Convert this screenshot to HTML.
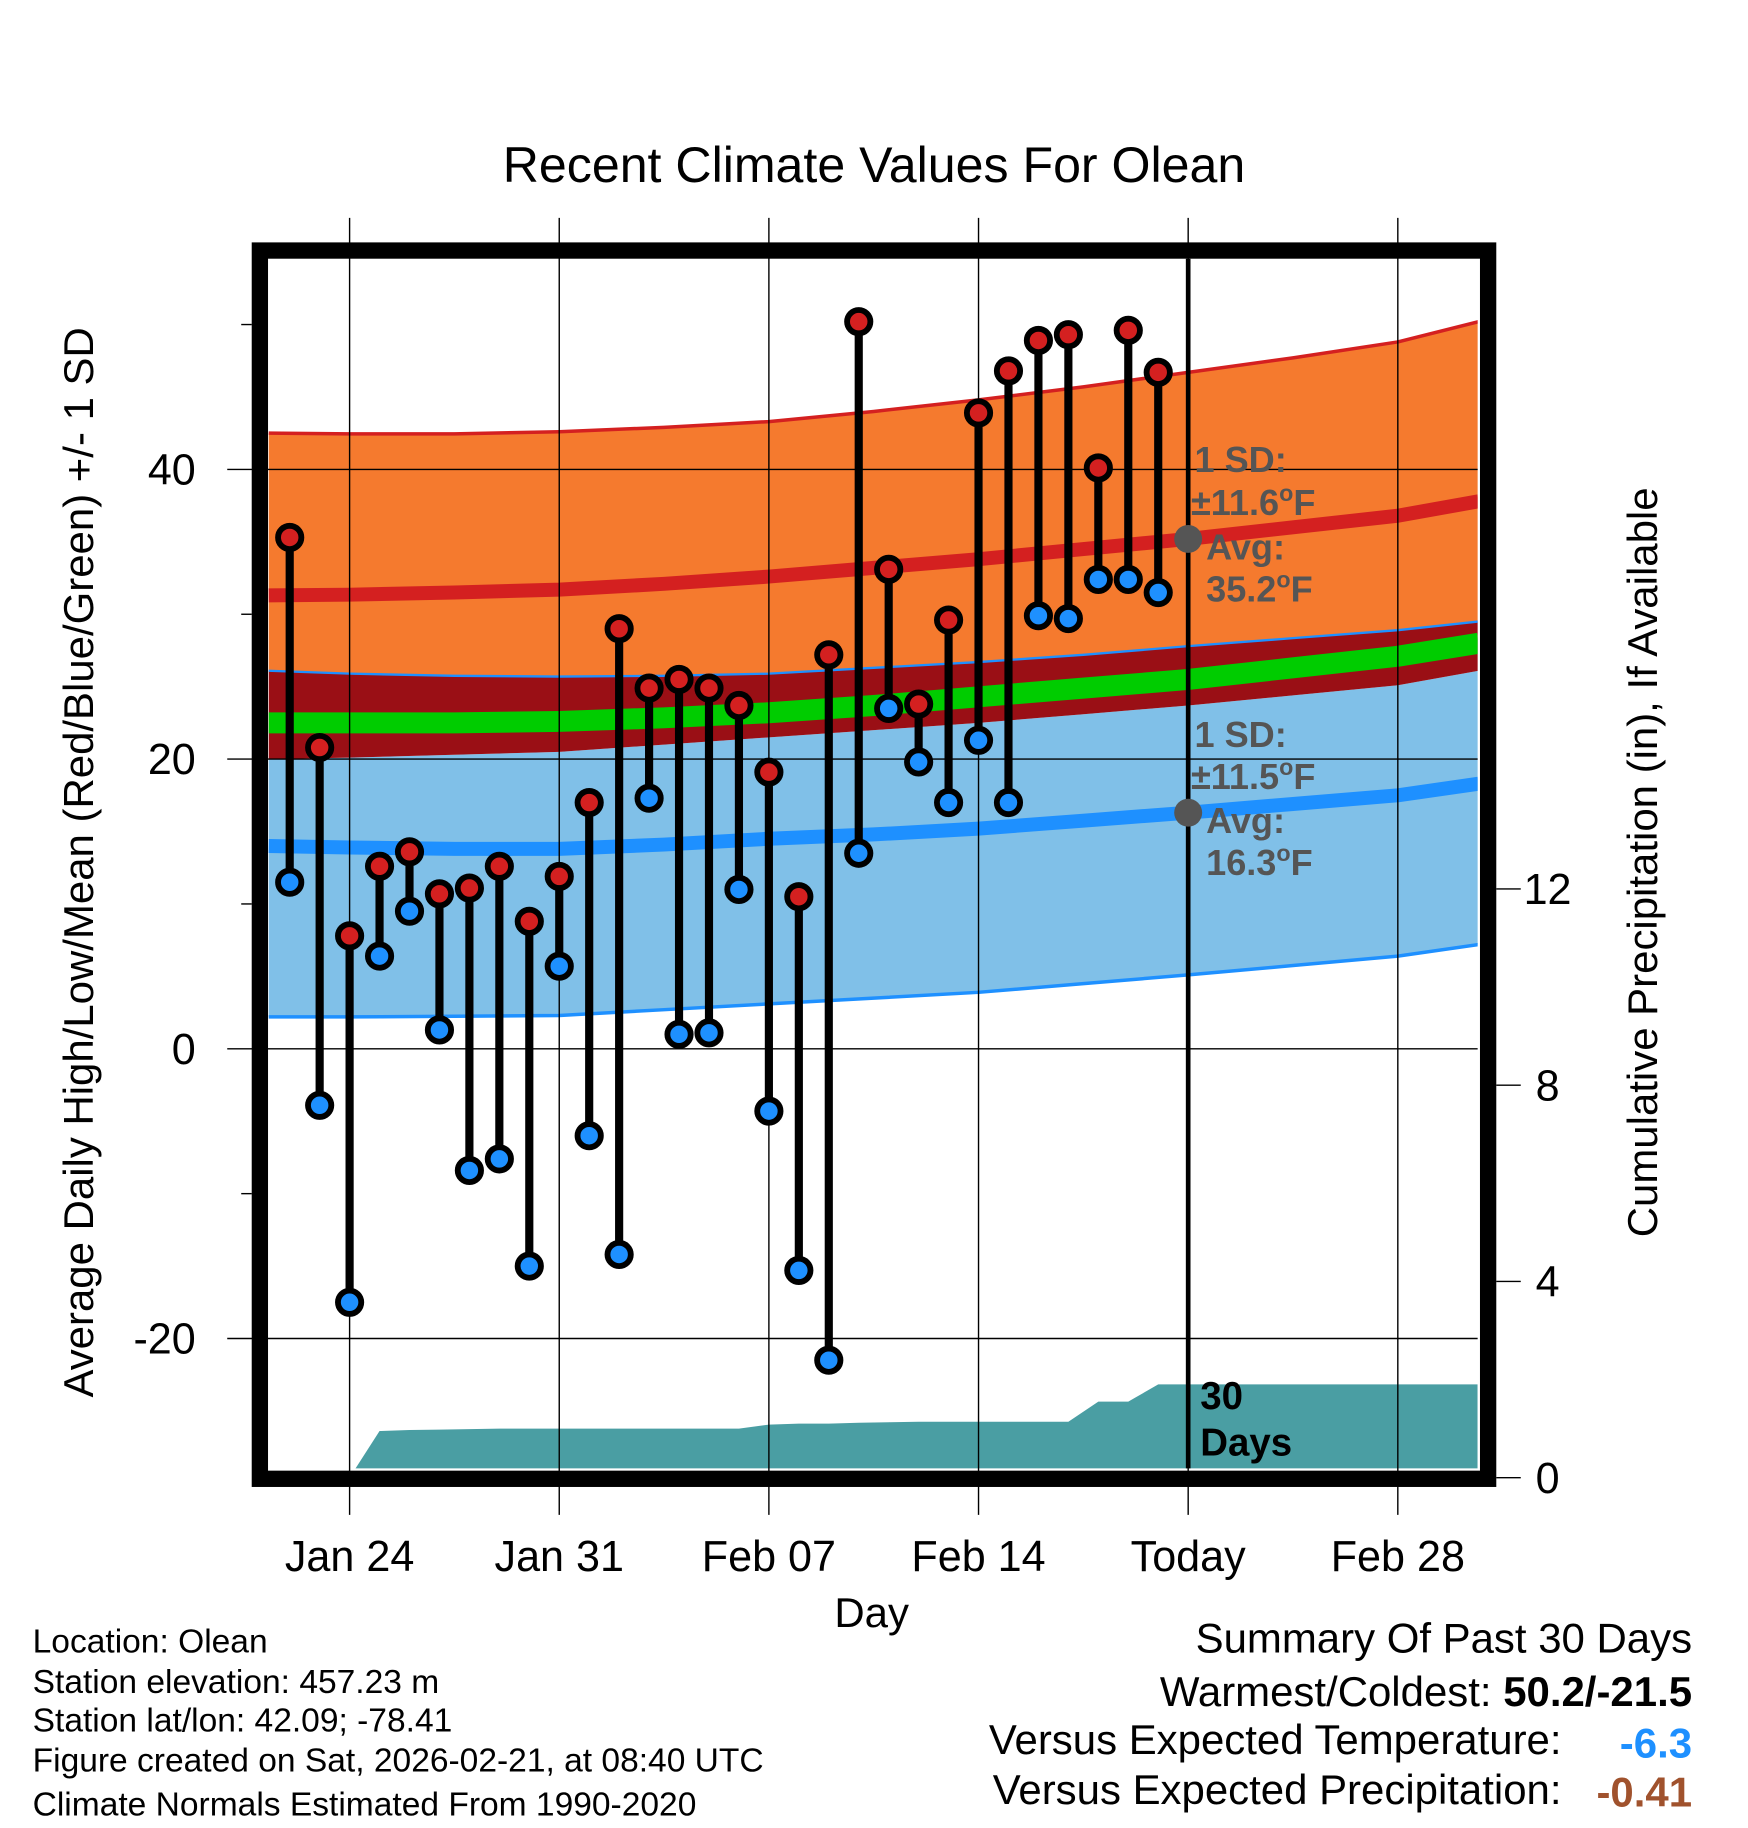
<!DOCTYPE html>
<html><head><meta charset="utf-8"><style>html,body{margin:0;padding:0;background:#fff}svg{display:block}text{font-family:"Liberation Sans",sans-serif}</style></head>
<body>
<svg id="chart" width="1748" height="1828" viewBox="0 0 1500 1568.65" xmlns="http://www.w3.org/2000/svg">
<defs><clipPath id="clip"><rect x="230" y="222" width="1038" height="1038"/></clipPath></defs>
<g id="plot" clip-path="url(#clip)"></g>
<g id="overlay"></g>
</svg>
<script>
const highs=[35.3,20.8,7.8,12.6,13.6,10.7,11.1,12.6,8.8,11.9,17.0,29.0,24.9,25.5,24.9,23.7,19.1,10.5,27.2,50.2,33.1,23.8,29.6,43.9,46.8,48.9,49.3,40.1,49.6,46.7];
const lows=[11.5,-3.9,-17.5,6.4,9.5,1.3,-8.4,-7.6,-15.0,5.7,-6.0,-14.2,17.3,1.0,1.1,11.0,-4.3,-15.3,-21.5,13.5,23.5,19.8,17.0,21.3,17.0,29.9,29.7,32.4,32.4,31.5];
const precip=[0,0,0,0.95,0.97,0.98,0.99,1.0,1.0,1.0,1.0,1.0,1.0,1.0,1.0,1.0,1.08,1.1,1.1,1.12,1.13,1.14,1.14,1.14,1.14,1.14,1.14,1.55,1.55,1.9];
const normDays=[-2.7,0,3.5,7,10.5,14,17.5,21,24.5,28,31.5,35,37.7];
const hiTop=[42.5,42.45,42.45,42.6,42.9,43.3,44.0,44.8,45.7,46.7,47.7,48.8,50.2];
const hiAvg=[31.3,31.35,31.5,31.7,32.1,32.6,33.2,33.8,34.5,35.2,36.0,36.8,37.8];
const hiBot=[26.1,25.9,25.75,25.7,25.75,25.9,26.3,26.7,27.2,27.8,28.35,28.9,29.5];
const meanAvg=[22.5,22.5,22.5,22.6,22.85,23.2,23.7,24.3,24.9,25.5,26.3,27.1,28.0];
const loTop=[20.0,20.1,20.3,20.5,21.0,21.5,22.0,22.5,23.1,23.7,24.4,25.1,26.1];
const loAvg=[14.0,13.9,13.8,13.8,14.1,14.5,14.8,15.2,15.75,16.3,16.9,17.5,18.3];
const loBot=[2.2,2.2,2.25,2.3,2.7,3.1,3.5,3.9,4.5,5.1,5.75,6.4,7.2];
const tempTicks=[40,20,0,-20];
const minorTicks=[50,30,10,-10];
const precipTicks=[0,4,8,12];
const dateLabels=["Jan 24","Jan 31","Feb 07","Feb 14","Today","Feb 28"];
const dateDays=[0,7,14,21,28,35];
const firstDay=-2;
const X=d=>300+d*25.7;
const Y=v=>900-v*12.43;
const P=v=>1268-v*42.1;
const NS="http://www.w3.org/2000/svg";
const plot=document.getElementById('plot'),ov=document.getElementById('overlay');
function mk(t,a,p,txt){const e=document.createElementNS(NS,t);for(const k in a)e.setAttribute(k,a[k]);if(txt!==undefined)e.textContent=txt;p.appendChild(e);return e;}
function band(top,bot,fill,name){let d=normDays.map((x,i)=>(i?'L':'M')+X(x)+','+Y(top[i])).join('');for(let i=normDays.length-1;i>=0;i--)d+='L'+X(normDays[i])+','+Y(bot[i]);const e=mk('path',{d:d+'Z',fill:fill},plot);}
function line(arr,col,w,name){const e=mk('polyline',{points:normDays.map((x,i)=>X(x)+','+Y(arr[i])).join(' '),fill:'none',stroke:col,'stroke-width':w,'stroke-linejoin':'round'},plot);}
band(hiTop,hiBot,'#f57a2e','high-sd-band');
band(loTop,loBot,'#80c0e8','low-sd-band');
band(hiBot,loTop,'#9a0f15','mean-band');
line(hiTop,'#d42020',3,'high-upper-line');
line(hiBot,'#1e90ff',2,'high-lower-line');
line(loBot,'#1e90ff',3,'low-lower-line');
line(hiAvg,'#d42020',12,'avg-high-line');
line(loAvg,'#1e90ff',12,'avg-low-line');
line(meanAvg,'#00cc00',18,'avg-mean-line');
let pd='M'+X(firstDay)+','+P(0);
precip.forEach((v,i)=>{pd+='L'+X(firstDay+i)+','+P(v);});
pd+='L1268,'+P(precip[precip.length-1])+'L1268,1268Z';
const pa=mk('path',{d:pd,fill:'#4a9ea3'},plot);


dateDays.forEach((d,i)=>{const g=mk('line',{x1:X(d),x2:X(d),y1:187,y2:1300,stroke:'#000','stroke-width':1.2},ov);
const t=mk('text',{x:X(d),y:1348,'font-size':37,'text-anchor':'middle'},ov,dateLabels[i]);});
tempTicks.forEach(v=>{const g=mk('line',{x1:195,x2:1268,y1:Y(v),y2:Y(v),stroke:'#000','stroke-width':1.2},ov);
const t=mk('text',{x:168,y:Y(v)+13,'font-size':37,'text-anchor':'end'},ov,String(v));});
minorTicks.forEach(v=>{const g=mk('line',{x1:207,x2:216,y1:Y(v),y2:Y(v),stroke:'#000','stroke-width':1.2},ov);});
precipTicks.forEach(v=>{const g=mk('line',{x1:1284,x2:1305,y1:P(v),y2:P(v),stroke:'#000','stroke-width':1.2},ov);
const t=mk('text',{x:1328,y:P(v)+13,'font-size':37,'text-anchor':'middle'},ov,String(v));});
const tl=mk('line',{x1:X(28),x2:X(28),y1:222,y2:1260,stroke:'#000','stroke-width':4},ov);


highs.forEach((h,i)=>{const x=X(firstDay+i);
const s=mk('line',{x1:x,x2:x,y1:Y(h),y2:Y(lows[i]),stroke:'#000','stroke-width':7},ov);
const c1=mk('circle',{cx:x,cy:Y(h),r:10,fill:'#d42020',stroke:'#000','stroke-width':5},ov);
const c2=mk('circle',{cx:x,cy:Y(lows[i]),r:10,fill:'#1e90ff',stroke:'#000','stroke-width':5},ov);});
[hiAvg[9],loAvg[9]].forEach(v=>{const c=mk('circle',{cx:X(28),cy:Y(v),r:12,fill:'#555'},ov);});
</script>
<svg style="position:absolute;left:0;top:0" width="1748" height="1828" viewBox="0 0 1500 1568.65">
<rect x="223" y="215" width="1054" height="1054" fill="none" stroke="#000" stroke-width="14"/>
<g font-family="Liberation Sans, sans-serif">
<text x="750" y="156" font-size="43" text-anchor="middle">Recent Climate Values For Olean</text>
<g font-weight="bold" fill="#555" font-size="31">
<text x="1025" y="405">1 SD:</text>
<text x="1022" y="442">±11.6<tspan font-size="20" dy="-12">o</tspan><tspan dy="12">F</tspan></text>
<text x="1035" y="480">Avg:</text>
<text x="1035" y="516">35.2<tspan font-size="20" dy="-12">o</tspan><tspan dy="12">F</tspan></text>
<text x="1025" y="641">1 SD:</text>
<text x="1022" y="677">±11.5<tspan font-size="20" dy="-12">o</tspan><tspan dy="12">F</tspan></text>
<text x="1035" y="715">Avg:</text>
<text x="1035" y="751">16.3<tspan font-size="20" dy="-12">o</tspan><tspan dy="12">F</tspan></text>
</g>
<g font-weight="bold" fill="#000" font-size="33">
<text x="1030" y="1209">30</text>
<text x="1030" y="1249">Days</text>
</g>
<text x="748" y="1396" font-size="36" text-anchor="middle">Day</text>
<text transform="translate(80,740) rotate(-90)" font-size="36" text-anchor="middle">Average Daily High/Low/Mean (Red/Blue/Green) +/- 1 SD</text>
<text transform="translate(1422,740) rotate(-90)" font-size="36" text-anchor="middle">Cumulative Precipitation (in), If Available</text>
<g font-size="28.8">
<text x="28" y="1418">Location: Olean</text>
<text x="28" y="1453">Station elevation: 457.23 m</text>
<text x="28" y="1486">Station lat/lon: 42.09; -78.41</text>
<text x="28" y="1520">Figure created on Sat, 2026-02-21, at 08:40 UTC</text>
<text x="28" y="1558">Climate Normals Estimated From 1990-2020</text>
</g>
<g font-size="36">
<text x="1452" y="1418" text-anchor="end">Summary Of Past 30 Days</text>
<text x="1452" y="1464" text-anchor="end">Warmest/Coldest: <tspan font-weight="bold">50.2/-21.5</tspan></text>
<text x="1340" y="1505" text-anchor="end">Versus Expected Temperature:</text>
<text x="1452" y="1508" text-anchor="end" font-weight="bold" fill="#1e90ff">-6.3</text>
<text x="1340" y="1548" text-anchor="end">Versus Expected Precipitation:</text>
<text x="1452" y="1550" text-anchor="end" font-weight="bold" fill="#a0522d">-0.41</text>
</g>
</g>
</svg>
</body></html>
